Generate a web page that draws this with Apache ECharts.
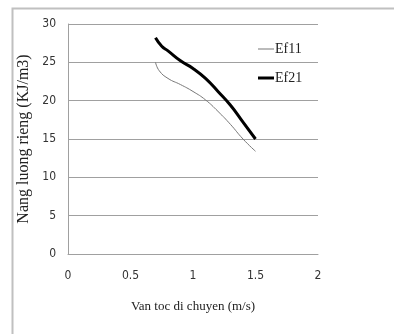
<!DOCTYPE html>
<html><head><meta charset="utf-8">
<script src="https://cdn.jsdelivr.net/npm/echarts@6/dist/echarts.min.js"></script>
<style>html,body{margin:0;padding:0;background:#fff}#c{width:394px;height:334px}</style>
</head><body><div id="c"></div>
<script>
const xTicks = [0, 0.5, 1, 1.5, 2];
const yTicks = [0, 5, 10, 15, 20, 25, 30];
const ef11X = [0.7, 0.73, 0.8, 0.9, 1.0, 1.1, 1.2, 1.3, 1.4, 1.5];
const ef11Y = [25.0, 23.9, 22.9, 22.1, 21.2, 20.1, 18.6, 16.9, 15.0, 13.4];
const ef21X = [0.7, 0.75, 0.8, 0.9, 1.0, 1.1, 1.2, 1.3, 1.4, 1.5];
const ef21Y = [28.2, 27.1, 26.5, 25.2, 24.2, 22.9, 21.2, 19.4, 17.2, 15.0];

const narrow = '"Liberation Sans Narrow", "DejaVu Sans Condensed", sans-serif';
const serif = '"Liberation Serif", "DejaVu Serif", serif';
const chart = echarts.init(document.getElementById('c'), null, {renderer: 'canvas'});
chart.setOption({
  animation: false,
  backgroundColor: '#fff',
  graphic: [{type: 'rect', left: 10, top: 6, shape: {width: 420, height: 400}, style: {fill: 'none', stroke: '#c0c0c0', lineWidth: 2}, z: -1}],
  grid: {left: 68, right: 76, top: 24, bottom: 80, containLabel: false},
  legend: [
    {data: ['Ef11'], left: 253, top: 37, icon: 'rect', itemWidth: 16, itemHeight: 1, itemGap: 0,
     textStyle: {fontFamily: serif, fontSize: 14, color: '#222', padding: [0, 0, 0, -4]}},
    {data: ['Ef21'], left: 253, top: 66, icon: 'rect', itemWidth: 16, itemHeight: 3, itemGap: 0,
     textStyle: {fontFamily: serif, fontSize: 14, color: '#222', padding: [0, 0, 0, -4]}}
  ],
  xAxis: {
    type: 'value', min: xTicks[0], max: xTicks[xTicks.length - 1], interval: 0.5,
    name: 'Van toc di chuyen (m/s)', nameLocation: 'middle', nameGap: 46,
    nameTextStyle: {fontFamily: serif, fontSize: 13, color: '#222'},
    axisLine: {lineStyle: {color: '#a0a0a0'}}, axisTick: {show: false},
    axisLabel: {fontFamily: narrow, fontSize: 12, color: '#333', margin: 16},
    splitLine: {show: false}
  },
  yAxis: {
    type: 'value', min: yTicks[0], max: yTicks[yTicks.length - 1], interval: 5,
    name: 'Nang luong rieng (KJ/m3)', nameLocation: 'middle', nameGap: 36,
    nameTextStyle: {fontFamily: serif, fontSize: 16, color: '#222'},
    axisLine: {show: true, lineStyle: {color: '#a0a0a0'}}, axisTick: {show: false},
    axisLabel: {fontFamily: narrow, fontSize: 12, color: '#333', margin: 12},
    splitLine: {lineStyle: {color: '#a0a0a0'}}
  },
  series: [
    {name: 'Ef11', type: 'line', smooth: true, showSymbol: false,
     data: ef11X.map((x, i) => [x, ef11Y[i]]), color: '#777', lineStyle: {width: 1, color: '#777'}},
    {name: 'Ef21', type: 'line', smooth: true, showSymbol: false,
     data: ef21X.map((x, i) => [x, ef21Y[i]]), color: '#000', lineStyle: {width: 3, color: '#000'}}
  ]
});
</script></body></html>
